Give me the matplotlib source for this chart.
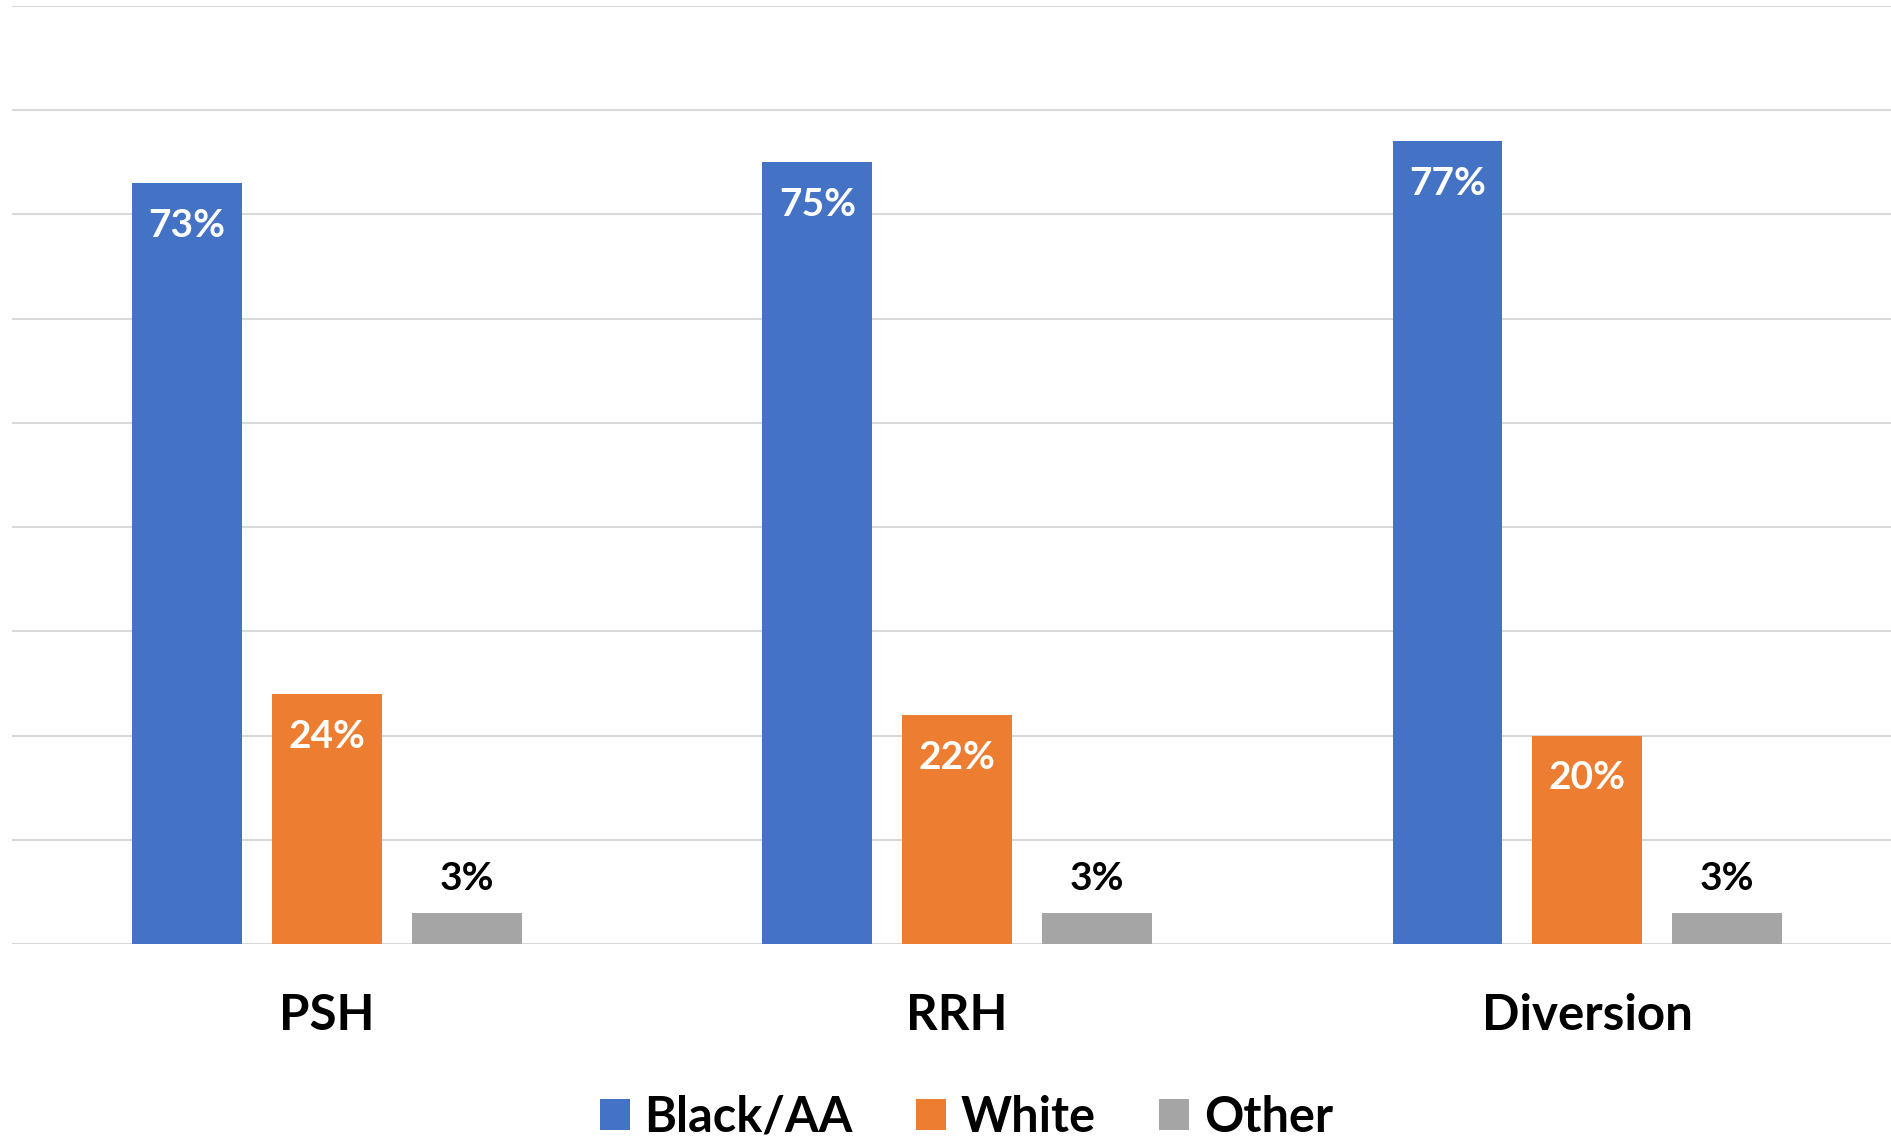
import numpy as np
import matplotlib.pyplot as plt
from matplotlib.patches import Patch

plt.rcParams['font.family'] = ['Lato', 'DejaVu Sans']

categories = ['PSH', 'RRH', 'Diversion']
series = ['Black/AA', 'White', 'Other']
black_aa = [73, 75, 77]
white = [24, 22, 20]
other = [3, 3, 3]
colors = ['#4472C4', '#ED7D31', '#A5A5A5']

fig = plt.figure(figsize=(18.91, 11.36), dpi=100)
ax = fig.add_axes([12 / 1891, 192 / 1136, 1 - 12 / 1891, (944 - 6) / 1136])

x = np.arange(len(categories))
width = 0.174
step = 0.222
values = [black_aa, white, other]

for i, (vals, col) in enumerate(zip(values, colors)):
    bars = ax.bar(x + (i - 1) * step, vals, width=width, color=col, zorder=3)
    for b, v in zip(bars, vals):
        cx = b.get_x() + b.get_width() / 2
        if i < 2:
            ax.annotate(f'{v}%', (cx, v), xytext=(0, -30.5), textcoords='offset points',
                        ha='center', va='center', color='white', fontsize=28,
                        fontweight='bold', zorder=4)
        else:
            ax.annotate(f'{v}%', (cx, v), xytext=(0, 24.5), textcoords='offset points',
                        ha='center', va='center', color='black', fontsize=28,
                        fontweight='bold', zorder=4)

ax.set_xlim(-0.5, 2.482)
ax.set_ylim(0, 90)
ax.set_yticks(np.arange(0, 91, 10))
ax.set_yticklabels([])
ax.yaxis.grid(True, color='#D9D9D9', linewidth=1.5, zorder=0)
ax.set_axisbelow(True)
for s in ax.spines.values():
    s.set_visible(False)
ax.tick_params(axis='y', length=0)
ax.set_xticks(x)
ax.set_xticklabels(categories, fontsize=35.5, fontweight='bold')
ax.tick_params(axis='x', length=0, pad=35)

handles = [Patch(facecolor=c, label=s) for c, s in zip(colors, series)]
leg = fig.legend(handles=handles, loc='center', bbox_to_anchor=(0.511, 1 - 1117 / 1136),
                 ncol=3, frameon=False, fontsize=35, handlelength=0.62, handleheight=0.62,
                 handletextpad=0.3, columnspacing=1.3)
for t in leg.get_texts():
    t.set_fontweight('bold')

fig.savefig('out.png', dpi=100)
